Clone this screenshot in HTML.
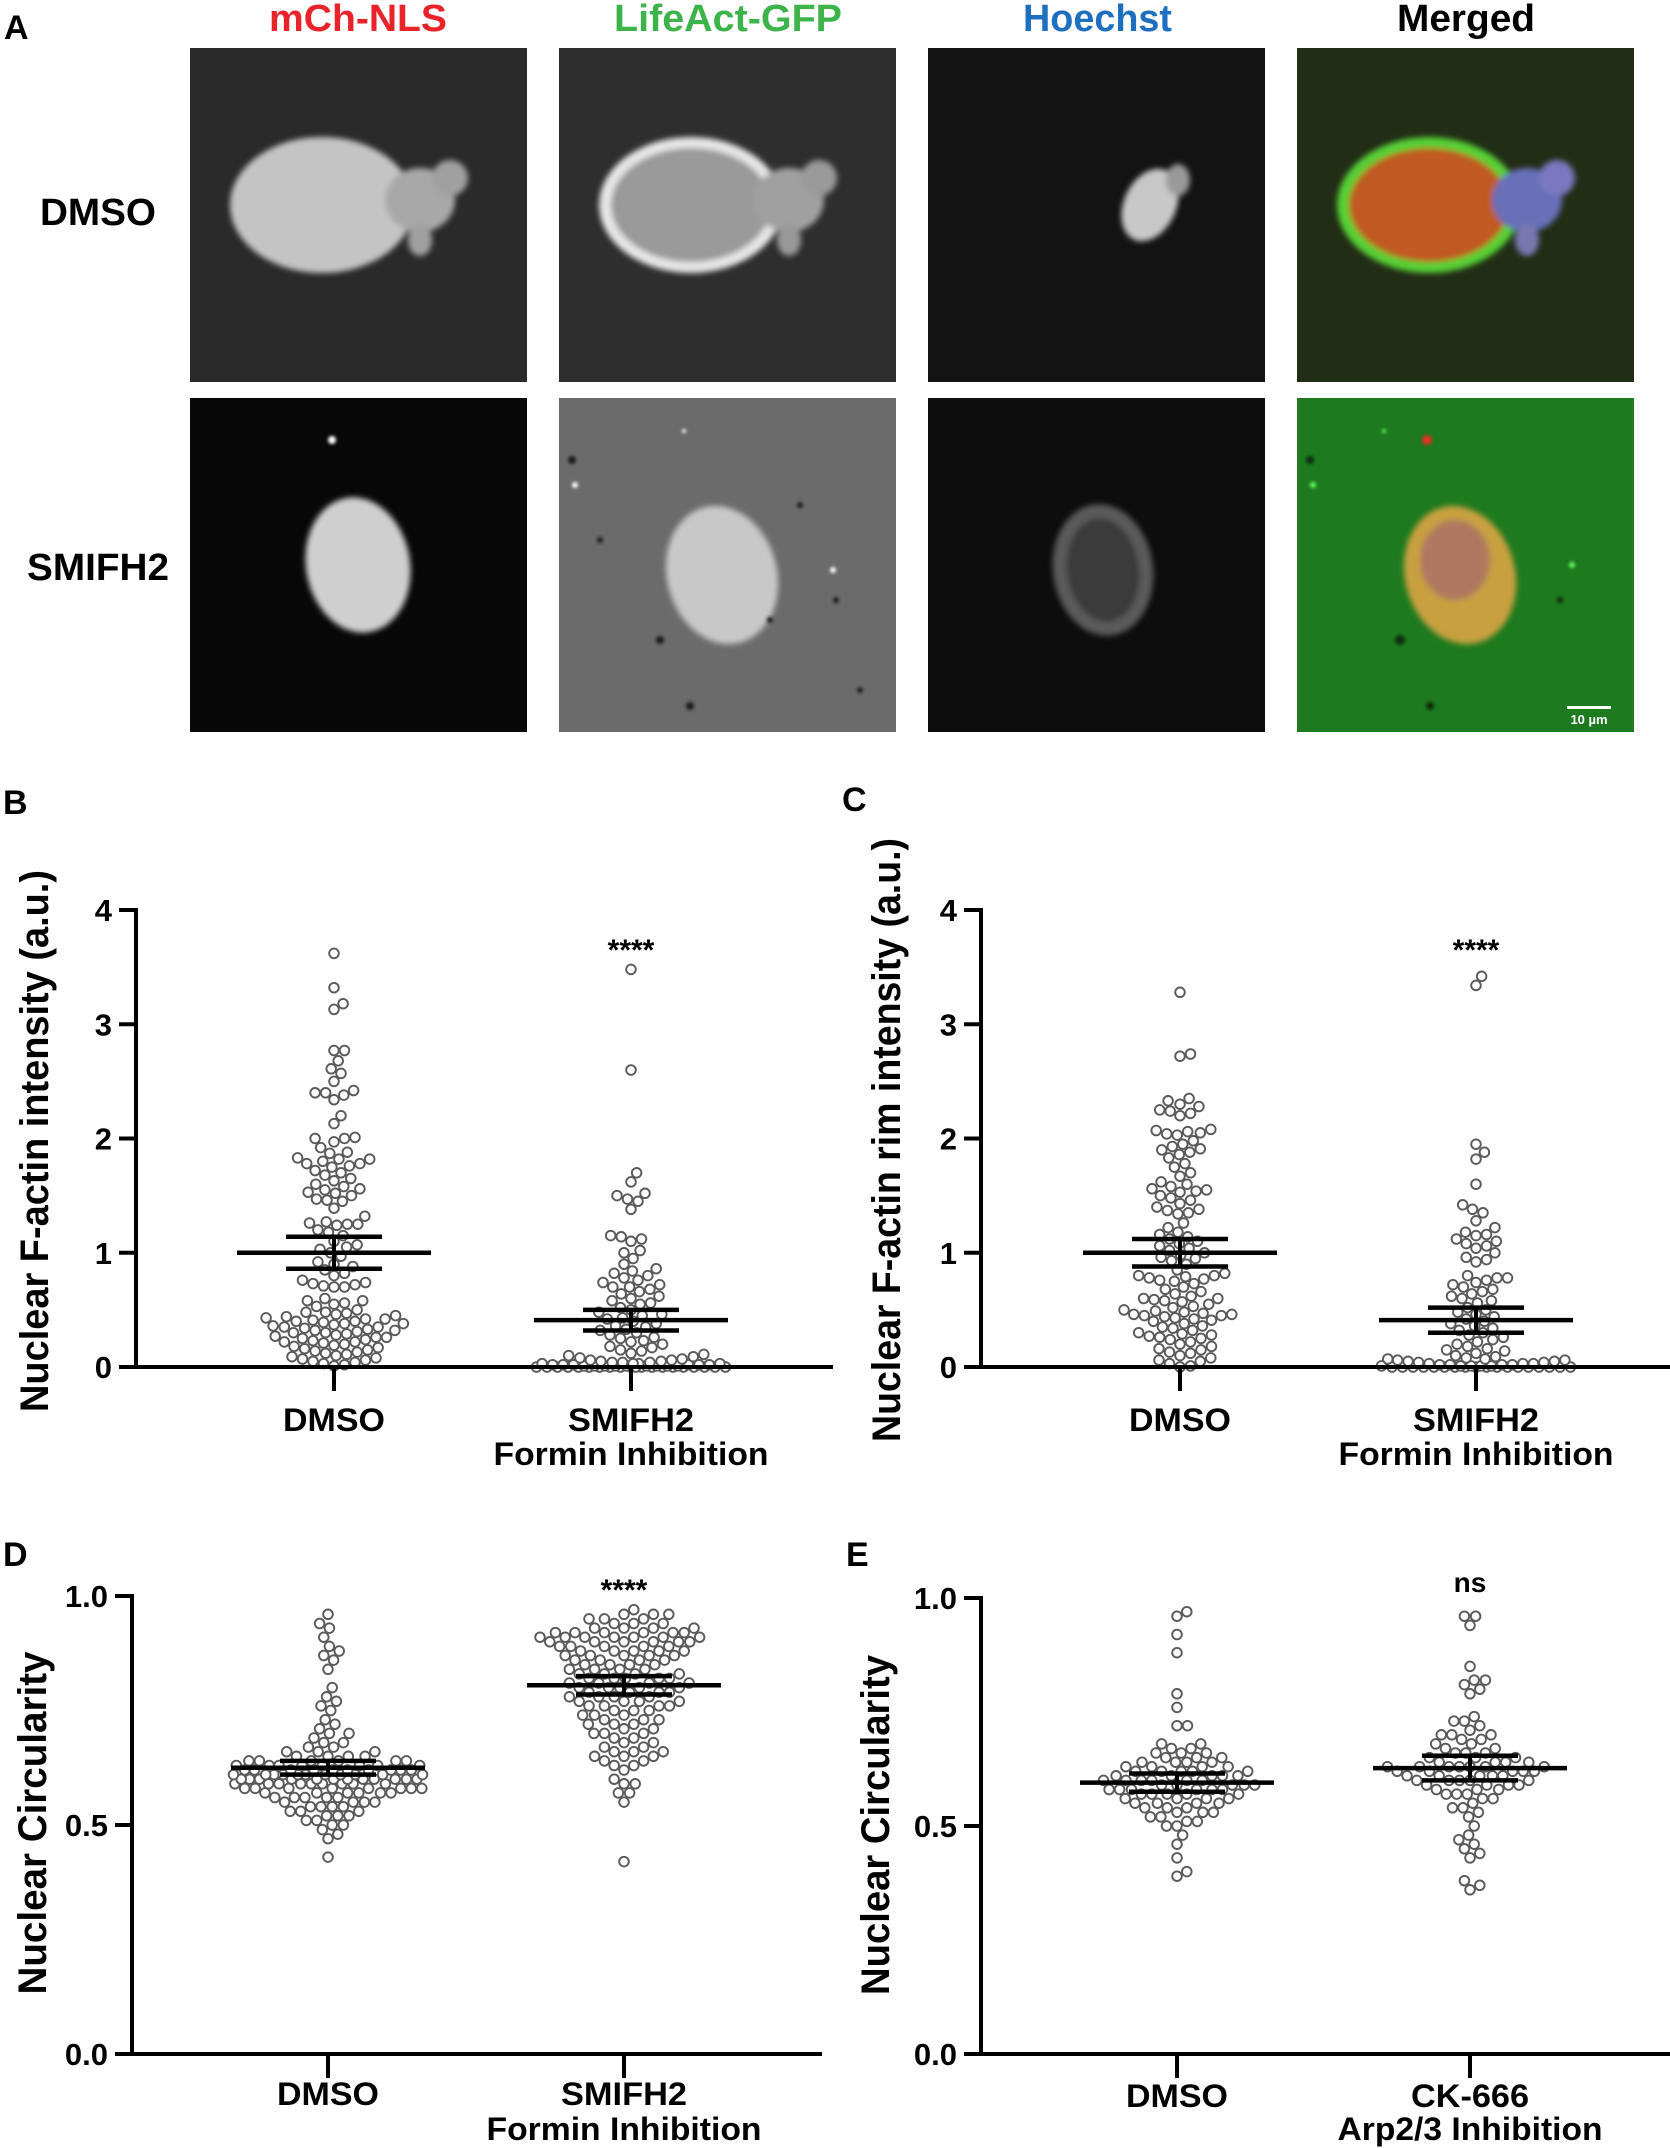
<!DOCTYPE html>
<html><head><meta charset="utf-8">
<style>
html,body{margin:0;padding:0;background:#fff;}
svg{display:block;}
text{font-family:"Liberation Sans",Arial,sans-serif;font-weight:bold;}
</style></head>
<body>
<svg id="fig" width="1670" height="2148" viewBox="0 0 1670 2148" xmlns="http://www.w3.org/2000/svg">
<defs>
<filter id="b3" x="-30%" y="-30%" width="160%" height="160%"><feGaussianBlur stdDeviation="3"/></filter>
<filter id="b1" x="-30%" y="-30%" width="160%" height="160%"><feGaussianBlur stdDeviation="1.5"/></filter>
</defs>

<g>
<text x="4" y="39" font-size="34">A</text>
<text x="269" y="31" font-size="38" fill="#e8232a" textLength="178" lengthAdjust="spacingAndGlyphs">mCh-NLS</text>
<text x="614" y="31" font-size="38" fill="#3cb44a" textLength="228" lengthAdjust="spacingAndGlyphs">LifeAct-GFP</text>
<text x="1023" y="31" font-size="38" fill="#1f6fc0" textLength="149" lengthAdjust="spacingAndGlyphs">Hoechst</text>
<text x="1397" y="31" font-size="38" fill="#000" textLength="138" lengthAdjust="spacingAndGlyphs">Merged</text>
<text x="40" y="225" font-size="38" textLength="116" lengthAdjust="spacingAndGlyphs">DMSO</text>
<text x="27" y="580" font-size="38" textLength="142" lengthAdjust="spacingAndGlyphs">SMIFH2</text>

<g>
<rect x="190" y="48" width="337" height="334" fill="#2a2a2a"/>
<g filter="url(#b3)"><ellipse cx="322" cy="205" rx="92" ry="68" fill="#c4c4c4"/><ellipse cx="420" cy="200" rx="35" ry="32" fill="#a8a8a8"/><ellipse cx="450" cy="178" rx="18" ry="18" fill="#a0a0a0"/><ellipse cx="420" cy="240" rx="12" ry="16" fill="#a0a0a0"/></g>
</g>
<g>
<rect x="559" y="48" width="337" height="334" fill="#2e2e2e"/>
<g filter="url(#b3)"><ellipse cx="691" cy="205" rx="92" ry="68" fill="#e6e6e6"/><ellipse cx="691" cy="205" rx="80" ry="57" fill="#9a9a9a"/><ellipse cx="789" cy="200" rx="35" ry="32" fill="#a0a0a0"/><ellipse cx="819" cy="178" rx="18" ry="18" fill="#9a9a9a"/><ellipse cx="789" cy="240" rx="12" ry="16" fill="#999"/></g>
</g>
<g>
<rect x="928" y="48" width="337" height="334" fill="#131313"/>
<g filter="url(#b3)"><ellipse cx="1150" cy="205" rx="26" ry="38" fill="#c8c8c8" transform="rotate(25 1150 205)"/><ellipse cx="1178" cy="180" rx="12" ry="16" fill="#999"/></g>
</g>
<g>
<rect x="1297" y="48" width="337" height="334" fill="#222d16"/>
<g filter="url(#b3)"><ellipse cx="1429" cy="205" rx="92" ry="68" fill="#56d034"/><ellipse cx="1429" cy="205" rx="80" ry="57" fill="#c05a22"/><ellipse cx="1527" cy="200" rx="35" ry="32" fill="#6870b8"/><ellipse cx="1557" cy="178" rx="18" ry="18" fill="#7a78c0"/><ellipse cx="1527" cy="240" rx="12" ry="16" fill="#7878b0"/></g>
</g>

<g>
<rect x="190" y="398" width="337" height="334" fill="#080808"/>
<g filter="url(#b3)"><ellipse cx="358" cy="565" rx="52" ry="68" fill="#cfcfcf" transform="rotate(-10 358 565)"/></g>
<circle cx="332" cy="440" r="4" fill="#fff" filter="url(#b1)"/>
</g>
<g>
<rect x="559" y="398" width="337" height="334" fill="#6b6b6b"/>
<g filter="url(#b3)"><ellipse cx="722" cy="575" rx="55" ry="70" fill="#c8c8c8" transform="rotate(-15 722 575)"/></g>
<g fill="#1a1a1a" filter="url(#b1)"><circle cx="572" cy="460" r="4"/><circle cx="660" cy="640" r="4"/><circle cx="690" cy="706" r="4"/><circle cx="770" cy="620" r="3"/><circle cx="800" cy="505" r="3"/><circle cx="836" cy="600" r="3"/><circle cx="860" cy="690" r="3"/><circle cx="600" cy="540" r="3"/></g>
<g fill="#fff" filter="url(#b1)"><circle cx="575" cy="485" r="3"/><circle cx="833" cy="570" r="3"/><circle cx="684" cy="431" r="2"/></g>
</g>
<g>
<rect x="928" y="398" width="337" height="334" fill="#0d0d0d"/>
<g filter="url(#b3)"><ellipse cx="1103" cy="570" rx="50" ry="66" fill="#5a5a5a" transform="rotate(-8 1103 570)"/><ellipse cx="1103" cy="570" rx="36" ry="52" fill="#3a3a3a" transform="rotate(-8 1103 570)"/></g>
</g>
<g>
<rect x="1297" y="398" width="337" height="334" fill="#1e7a1e"/>
<g filter="url(#b3)"><ellipse cx="1460" cy="575" rx="55" ry="70" fill="#c8a040" transform="rotate(-15 1460 575)"/><ellipse cx="1455" cy="560" rx="35" ry="40" fill="#b07860"/></g>
<circle cx="1427" cy="440" r="5" fill="#e03020" filter="url(#b1)"/>
<g fill="#0a2a0a" filter="url(#b1)"><circle cx="1310" cy="460" r="4"/><circle cx="1400" cy="640" r="5"/><circle cx="1430" cy="706" r="4"/><circle cx="1560" cy="600" r="3"/></g>
<g fill="#60ff60" filter="url(#b1)"><circle cx="1313" cy="485" r="3"/><circle cx="1572" cy="565" r="3"/><circle cx="1384" cy="431" r="2"/></g>
<rect x="1567" y="706" width="44" height="3" fill="#fff"/>
<text x="1589" y="724" font-size="13" fill="#fff" text-anchor="middle">10 µm</text>
</g>
</g>

<g id="charts"></g>
</svg>

<script>
// ---- Panel B data ----
const bCategories = ["DMSO", "SMIFH2"];
const bTicks = [0, 1, 2, 3, 4];
const bDmso = [3.62,3.32,3.18,3.13,2.77,2.77,2.68,2.61,2.57,2.50,2.42,2.40,2.40,2.38,2.34,2.20,2.13,2.01,2.00,2.00,1.97,1.92,1.88,1.87,1.83,1.82,1.82,1.80,1.78,1.78,1.76,1.75,1.72,1.70,1.68,1.65,1.63,1.60,1.58,1.56,1.55,1.53,1.52,1.50,1.47,1.46,1.45,1.39,1.32,1.27,1.26,1.25,1.25,1.24,1.20,1.18,1.15,1.10,1.07,1.05,1.03,1.00,0.97,0.92,0.90,0.88,0.85,0.82,0.80,0.76,0.74,0.73,0.72,0.71,0.70,0.70,0.60,0.58,0.58,0.56,0.55,0.53,0.50,0.48,0.48,0.47,0.46,0.45,0.44,0.43,0.42,0.42,0.41,0.40,0.40,0.39,0.38,0.38,0.37,0.36,0.35,0.35,0.34,0.33,0.32,0.32,0.31,0.30,0.30,0.29,0.28,0.27,0.26,0.26,0.25,0.24,0.23,0.22,0.22,0.21,0.20,0.19,0.18,0.17,0.16,0.15,0.14,0.13,0.12,0.11,0.10,0.09,0.08,0.07,0.06,0.05,0.04,0.03,0.02,0.01];
const bSmifh2 = [3.48,2.60,1.70,1.62,1.52,1.50,1.47,1.45,1.38,1.15,1.14,1.12,1.10,1.02,1.00,0.95,0.90,0.86,0.84,0.82,0.80,0.78,0.76,0.74,0.72,0.70,0.70,0.68,0.66,0.64,0.62,0.60,0.58,0.56,0.55,0.52,0.50,0.48,0.46,0.45,0.43,0.42,0.40,0.38,0.36,0.35,0.33,0.32,0.30,0.28,0.26,0.25,0.23,0.22,0.20,0.18,0.17,0.15,0.14,0.12,0.11,0.10,0.09,0.08,0.07,0.06,0.06,0.05,0.05,0.04,0.04,0.04,0.03,0.03,0.03,0.03,0.02,0.02,0.02,0.02,0.02,0.02,0.01,0.01,0.01,0.01,0.01,0.01,0.01,0.01,0.01,0,0,0,0,0,0,0,0,0,0,0,0,0,0,0,0,0,0,0,0];
const bMeans = [1.00, 0.41];
const bSems = [0.14, 0.09];

// ---- Panel C data ----
const cTicks = [0, 1, 2, 3, 4];
const cDmso = [3.28,2.74,2.72,2.35,2.33,2.30,2.28,2.25,2.24,2.22,2.20,2.08,2.07,2.06,2.05,2.04,2.03,1.98,1.95,1.93,1.91,1.90,1.88,1.86,1.83,1.78,1.75,1.70,1.67,1.62,1.60,1.58,1.56,1.55,1.54,1.53,1.50,1.48,1.46,1.43,1.40,1.38,1.37,1.35,1.34,1.26,1.22,1.18,1.16,1.14,1.12,1.10,1.08,1.06,1.04,1.02,1.00,0.98,0.96,0.95,0.93,0.90,0.85,0.82,0.80,0.80,0.79,0.78,0.77,0.76,0.75,0.73,0.70,0.68,0.66,0.64,0.62,0.60,0.60,0.59,0.58,0.57,0.55,0.53,0.52,0.50,0.49,0.48,0.47,0.46,0.46,0.45,0.45,0.44,0.43,0.42,0.41,0.40,0.38,0.36,0.35,0.34,0.32,0.30,0.29,0.28,0.27,0.26,0.25,0.24,0.22,0.20,0.18,0.16,0.15,0.13,0.12,0.10,0.08,0.06,0.05,0.03,0.01,0.0];
const cSmifh2 = [3.42,3.34,1.95,1.88,1.82,1.60,1.42,1.38,1.35,1.28,1.22,1.18,1.16,1.15,1.12,1.10,1.08,1.06,1.04,1.00,0.96,0.94,0.92,0.80,0.78,0.78,0.76,0.74,0.72,0.70,0.68,0.66,0.64,0.62,0.60,0.58,0.56,0.52,0.50,0.48,0.46,0.44,0.42,0.40,0.38,0.36,0.34,0.32,0.30,0.28,0.26,0.24,0.22,0.20,0.18,0.16,0.15,0.14,0.12,0.10,0.09,0.08,0.07,0.07,0.06,0.06,0.05,0.05,0.04,0.04,0.03,0.03,0.03,0.02,0.02,0.02,0.02,0.01,0.01,0.01,0.01,0.01,0,0,0,0,0,0,0,0,0,0,0,0,0,0,0,0,0,0];
const cMeans = [1.00, 0.41];
const cSems = [0.12, 0.11];

// ---- Panel D data ----
const dTicks = [0.0, 0.5, 1.0];
const dTickLabels = ["0.0", "0.5", "1.0"];
const dDmso = [0.96,0.94,0.93,0.91,0.89,0.88,0.87,0.86,0.84,0.80,0.78,0.77,0.76,0.75,0.73,0.72,0.71,0.70,0.70,0.69,0.68,0.68,0.67,0.67,0.66,0.66,0.66,0.65,0.65,0.65,0.65,0.64,0.64,0.64,0.64,0.64,0.64,0.63,0.63,0.63,0.63,0.63,0.63,0.63,0.63,0.62,0.62,0.62,0.62,0.62,0.62,0.62,0.62,0.62,0.62,0.61,0.61,0.61,0.61,0.61,0.61,0.61,0.61,0.61,0.61,0.61,0.60,0.60,0.60,0.60,0.60,0.60,0.60,0.60,0.60,0.60,0.60,0.60,0.59,0.59,0.59,0.59,0.59,0.59,0.59,0.59,0.59,0.58,0.58,0.58,0.58,0.58,0.58,0.58,0.58,0.57,0.57,0.57,0.57,0.57,0.57,0.56,0.56,0.56,0.56,0.56,0.55,0.55,0.55,0.55,0.54,0.54,0.54,0.54,0.53,0.53,0.53,0.52,0.52,0.52,0.51,0.51,0.50,0.50,0.49,0.48,0.47,0.43];
const dSmifh2 = [0.97,0.96,0.96,0.96,0.95,0.95,0.95,0.94,0.94,0.94,0.93,0.93,0.93,0.93,0.92,0.92,0.92,0.92,0.92,0.92,0.91,0.91,0.91,0.91,0.91,0.91,0.91,0.90,0.90,0.90,0.90,0.90,0.90,0.89,0.89,0.89,0.89,0.89,0.88,0.88,0.88,0.88,0.88,0.87,0.87,0.87,0.87,0.87,0.86,0.86,0.86,0.86,0.85,0.85,0.85,0.85,0.84,0.84,0.84,0.84,0.83,0.83,0.83,0.83,0.82,0.82,0.82,0.82,0.82,0.81,0.81,0.81,0.81,0.80,0.80,0.80,0.80,0.80,0.79,0.79,0.79,0.79,0.78,0.78,0.78,0.78,0.77,0.77,0.77,0.77,0.76,0.76,0.76,0.76,0.75,0.75,0.75,0.74,0.74,0.74,0.73,0.73,0.73,0.72,0.72,0.72,0.71,0.71,0.70,0.70,0.70,0.69,0.69,0.68,0.68,0.67,0.67,0.66,0.66,0.66,0.65,0.65,0.65,0.64,0.64,0.63,0.63,0.62,0.60,0.59,0.59,0.57,0.57,0.55,0.42];
const dMeans = [0.625, 0.805];
const dSems = [0.015, 0.02];

// ---- Panel E data ----
const eCategories = ["DMSO", "CK-666"];
const eDmso = [0.97,0.96,0.92,0.88,0.79,0.76,0.72,0.72,0.68,0.68,0.67,0.67,0.66,0.66,0.66,0.65,0.65,0.65,0.64,0.64,0.64,0.64,0.63,0.63,0.63,0.63,0.62,0.62,0.62,0.62,0.62,0.61,0.61,0.61,0.61,0.61,0.60,0.60,0.60,0.60,0.60,0.60,0.59,0.59,0.59,0.59,0.59,0.58,0.58,0.58,0.58,0.58,0.58,0.57,0.57,0.57,0.57,0.57,0.56,0.56,0.56,0.56,0.55,0.55,0.55,0.55,0.54,0.54,0.54,0.53,0.53,0.53,0.52,0.52,0.51,0.51,0.50,0.50,0.48,0.46,0.43,0.40,0.39];
const eCk666 = [0.96,0.96,0.94,0.85,0.82,0.82,0.81,0.80,0.79,0.74,0.73,0.73,0.72,0.71,0.70,0.70,0.70,0.69,0.69,0.68,0.68,0.67,0.67,0.66,0.66,0.66,0.65,0.65,0.65,0.64,0.64,0.64,0.64,0.63,0.63,0.63,0.63,0.63,0.63,0.63,0.62,0.62,0.62,0.62,0.62,0.61,0.61,0.61,0.61,0.61,0.60,0.60,0.60,0.60,0.60,0.59,0.59,0.59,0.59,0.58,0.58,0.58,0.57,0.57,0.57,0.56,0.56,0.55,0.54,0.54,0.53,0.52,0.50,0.48,0.47,0.46,0.45,0.44,0.43,0.38,0.37,0.36];
const eMeans = [0.595, 0.627];
const eSems = [0.02, 0.027];

const NS = "http://www.w3.org/2000/svg";
const root = document.getElementById("charts");
function mk(tag, attrs, parent) {
  const el = document.createElementNS(NS, tag);
  for (const k in attrs) el.setAttribute(k, attrs[k]);
  parent.appendChild(el);
  return el;
}

function swarm(vals, cx, yScale, r, maxHalf) {
  const sorted = vals.slice().sort((a, b) => a - b);
  const placed = [];
  const minD = 2 * r + 0.4;
  for (const v of sorted) {
    const y = yScale(v);
    let best = null, bestScore = -1, bestX = cx;
    for (let k = 0; k * 0.7 <= maxHalf && best === null; k++) {
      const offs = k === 0 ? [0] : [k * 0.7, -k * 0.7];
      for (const o of offs) {
        const x = cx + o;
        let md = 1e9;
        for (const p of placed) {
          const dx = p[0] - x, dy = p[1] - y;
          const d = Math.sqrt(dx * dx + dy * dy);
          if (d < md) md = d;
        }
        if (md >= minD) { best = [x, y]; break; }
        if (md > bestScore) { bestScore = md; bestX = x; }
      }
    }
    if (best === null) best = [bestX, y];
    placed.push(best);
  }
  return placed;
}

function drawChart(cfg) {
  const g = mk("g", {}, root);
  
  
  const yScale = v => cfg.y0 - (v - cfg.vmin) / (cfg.vmax - cfg.vmin) * (cfg.y0 - cfg.yTop);
  const L = mk("text", {x: cfg.letterX, y: cfg.letterY, "font-size": 34}, g);
  L.textContent = cfg.letter;
  
  
  const t = mk("text", {x: 0, y: 0, "font-size": 40, "text-anchor": "middle", transform: `translate(${cfg.titleX},${cfg.titleY}) rotate(-90)`, textLength: cfg.titleLen, lengthAdjust: "spacingAndGlyphs"}, g);
  t.textContent = cfg.title;
  
  
  cfg.series.forEach((vals, i) => {
    const pts = swarm(vals, cfg.centers[i], yScale, 5, cfg.maxHalf[i]);
    pts.forEach(p => {
      const c = mk("circle", {cx: p[0].toFixed(1), cy: p[1].toFixed(1), r: 4.8, fill: "#fff", stroke: "#5a5a5a", "stroke-width": 1.9}, g);
      
      
    });
  });
  const ya = mk("line", {x1: cfg.ax, y1: cfg.yTop - 2, x2: cfg.ax, y2: cfg.y0 + 2, stroke: "#000", "stroke-width": 4}, g);
  
  
  const xa = mk("line", {x1: cfg.ax - 2, y1: cfg.y0, x2: cfg.axEnd, y2: cfg.y0, stroke: "#000", "stroke-width": 4}, g);
  
  
  cfg.ticks.forEach((tv, i) => {
    const y = yScale(tv);
    const tk = mk("line", {x1: cfg.ax - 17, y1: y, x2: cfg.ax, y2: y, stroke: "#000", "stroke-width": 4}, g);
    
    
    const lbl = cfg.tickLabels ? cfg.tickLabels[i] : String(tv);
    const tl = mk("text", {x: cfg.ax - 24, y: y + 11, "font-size": 31, "text-anchor": "end"}, g);
    tl.textContent = lbl;
    
    
  });
  cfg.centers.forEach((cx, i) => {
    const tk = mk("line", {x1: cx, y1: cfg.y0, x2: cx, y2: cfg.y0 + 24, stroke: "#000", "stroke-width": 4}, g);
    
    
    const l1 = mk("text", {x: cx, y: cfg.labY1, "font-size": 32, "text-anchor": "middle", textLength: cfg.lab1Len[i], lengthAdjust: "spacingAndGlyphs"}, g);
    l1.textContent = cfg.categories[i];
    
    
    if (cfg.sub[i]) {
      const l2 = mk("text", {x: cx, y: cfg.labY2, "font-size": 32, "text-anchor": "middle", textLength: cfg.subLen, lengthAdjust: "spacingAndGlyphs"}, g);
      l2.textContent = cfg.sub[i];
      
      
    }
    const m = yScale(cfg.means[i]);
    const hi = yScale(cfg.means[i] + cfg.sems[i]);
    const lo = yScale(cfg.means[i] - cfg.sems[i]);
    const ml = mk("line", {x1: cx - 97, y1: m, x2: cx + 97, y2: m, stroke: "#000", "stroke-width": 4.5}, g);
    
    
    const v = mk("line", {x1: cx, y1: hi, x2: cx, y2: lo, stroke: "#000", "stroke-width": 4}, g);
    
    
    [hi, lo].forEach(yy => {
      const cap = mk("line", {x1: cx - 48, y1: yy, x2: cx + 48, y2: yy, stroke: "#000", "stroke-width": 4.5}, g);
      
      
    });
  });
  const s = mk("text", {x: cfg.centers[1], y: cfg.sigY, "font-size": cfg.sig === "ns" ? 28 : 30, "font-weight": "normal", "text-anchor": "middle"}, g);
  s.textContent = cfg.sig;
  
  
}

drawChart({name: "panel-b-chart", letter: "B", letterX: 3, letterY: 814, title: "Nuclear F-actin intensity (a.u.)", titleX: 48, titleY: 1141, titleLen: 542,
  ax: 136, axEnd: 833, y0: 1367, yTop: 910, vmin: 0, vmax: 4, ticks: bTicks, maxHalf: [95, 95],
  centers: [334, 631], categories: bCategories, sub: ["", "Formin Inhibition"], lab1Len: [102, 126], subLen: 275,
  labY1: 1431, labY2: 1465, series: [bDmso, bSmifh2], means: bMeans, sems: bSems, sig: "****", sigY: 960});

drawChart({name: "panel-c-chart", letter: "C", letterX: 842, letterY: 811, title: "Nuclear F-actin rim intensity (a.u.)", titleX: 900, titleY: 1140, titleLen: 604,
  ax: 981, axEnd: 1670, y0: 1367, yTop: 910, vmin: 0, vmax: 4, ticks: cTicks, maxHalf: [95, 95],
  centers: [1180, 1476], categories: bCategories, sub: ["", "Formin Inhibition"], lab1Len: [102, 126], subLen: 275,
  labY1: 1431, labY2: 1465, series: [cDmso, cSmifh2], means: cMeans, sems: cSems, sig: "****", sigY: 960});

drawChart({name: "panel-d-chart", letter: "D", letterX: 3, letterY: 1566, title: "Nuclear Circularity", titleX: 46, titleY: 1823, titleLen: 343,
  ax: 132, axEnd: 822, y0: 2054, yTop: 1596, vmin: 0, vmax: 1, ticks: dTicks, tickLabels: dTickLabels, maxHalf: [95, 95],
  centers: [328, 624], categories: bCategories, sub: ["", "Formin Inhibition"], lab1Len: [102, 126], subLen: 275,
  labY1: 2105, labY2: 2140, series: [dDmso, dSmifh2], means: dMeans, sems: dSems, sig: "****", sigY: 1600});

drawChart({name: "panel-e-chart", letter: "E", letterX: 846, letterY: 1566, title: "Nuclear Circularity", titleX: 889, titleY: 1825, titleLen: 340,
  ax: 981, axEnd: 1670, y0: 2054, yTop: 1598, vmin: 0, vmax: 1, ticks: dTicks, tickLabels: dTickLabels, maxHalf: [95, 95],
  centers: [1177, 1470], categories: eCategories, sub: ["", "Arp2/3 Inhibition"], lab1Len: [102, 118], subLen: 265,
  labY1: 2107, labY2: 2140, series: [eDmso, eCk666], means: eMeans, sems: eSems, sig: "ns", sigY: 1592});
</script>
</body></html>
